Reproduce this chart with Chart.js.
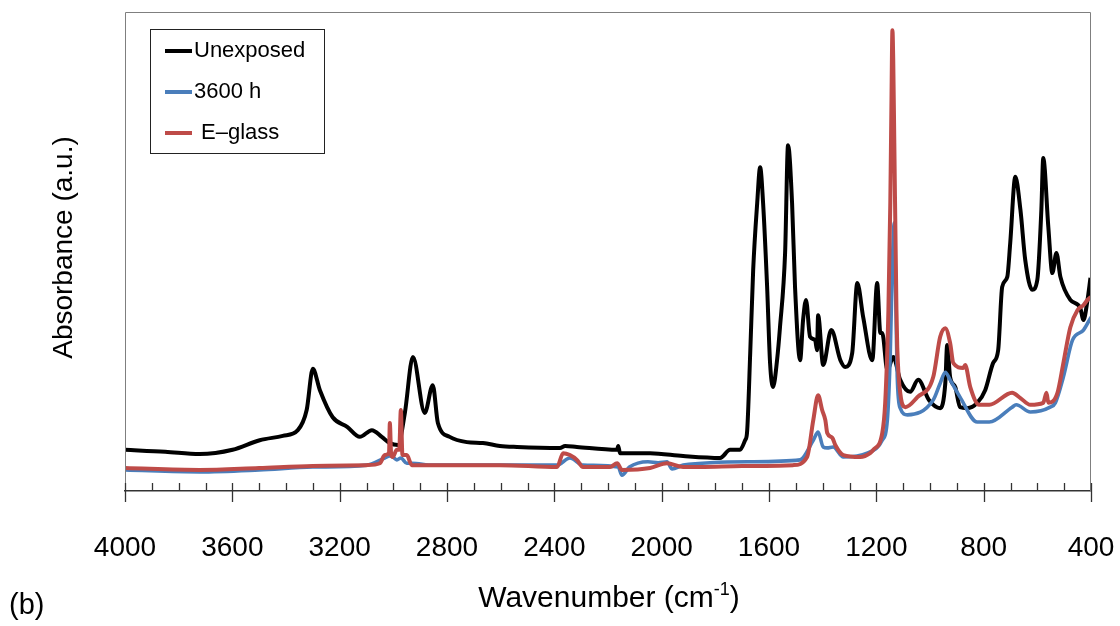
<!DOCTYPE html>
<html>
<head>
<meta charset="utf-8">
<script src="https://cdn.jsdelivr.net/npm/chart.js@4.4.0/dist/chart.umd.min.js"></script>
<style>
html, body { margin: 0; padding: 0; background: #fff; }
</style>
</head>
<body>
<canvas id="g_ftir" width="1120" height="626"></canvas>
<script>
var wn_unexposed = [4000,3850,3722,3599,3498,3412,3356,3323,3300,3274,3226,3172,3125,3080,3043,3013,2983,2957,2927,2883,
    2853,2834,2790,2726,2666,2603,2539,2379,2360,2316,2166,2162,2155,2043,1920,1782,1745,1708,1689,1682,
    1670,1659,1644,1633,1622,1607,1596,1585,1570,1559,1540,1529,1514,1503,1484,1473,1462,1447,1428,1421,
    1417,1398,1368,1334,1316,1290,1271,1249,1215,1197,1185,1178,1159,1137,1111,1074,1044,1004,962,943,
    936,925,906,888,862,824,794,765,746,731,712,701,682,663,645,619,600,585,578,559,
    544,529,514,477,440,428,413,402];
var abs_unexposed = [8.6,8.2,7.7,8.6,10.6,11.5,12.7,16.9,25.5,21.1,15.4,13.4,11.3,12.7,11.3,10.0,9.6,16.3,28.0,16.3,
    22.1,14.2,11.3,10.2,10.0,9.4,9.2,9.0,9.4,9.2,8.6,9.4,7.9,7.9,7.3,6.9,8.6,8.6,10.6,12.1,
    28.8,46.1,60.1,67.6,60.1,42.6,26.7,21.7,27.3,34.2,49.7,72.2,60.1,42.6,27.3,35.7,39.9,32.2,31.5,29.4,
    36.7,26.3,33.6,27.3,25.9,28.8,43.4,36.3,27.3,43.4,33.0,33.0,25.2,28.0,23.2,20.7,23.2,19.0,17.3,22.5,
    30.5,23.8,21.7,17.5,17.3,18.4,21.1,26.7,29.4,42.6,44.7,51.8,65.6,58.7,48.2,42.0,44.1,58.7,69.5,55.1,
    45.5,49.7,44.7,39.9,38.2,35.7,39.9,44.5];

var wn_3600 = [4000,3722,3500,3300,3100,3032,3013,3002,2987,2972,2950,2931,2853,2603,2390,2342,2293,2162,2148,2120,
    2051,2013,1980,1961,1920,1670,1484,1435,1417,1398,1383,1361,1323,1234,1178,1159,1148,1140,1133,1127,
    1122,1111,1084,988,962,943,925,888,824,779,694,679,626,552,533,503,469,428,400];
var abs_3600 = [4.4,4.0,4.4,5.0,5.4,6.9,7.3,7.1,6.5,6.9,5.8,5.8,5.4,5.4,5.4,6.9,5.4,5.0,3.3,5.0,
    6.1,5.9,6.1,4.6,5.4,6.1,6.5,10.6,12.3,9.2,9.0,9.2,7.1,7.9,10.6,14.8,28.8,48,56.0,38,
    23.8,17.3,15.9,19.0,22.5,24.8,23.2,19.6,14.4,14.4,17.5,18.0,16.5,17.5,18.4,23.8,31.5,33.6,36.3];

var wn_glass = [4000,3722,3500,3300,3100,3050,3032,3016,3013,3008,3002,2987,2978,2972,2966,2950,2931,2853,2603,2390,
    2367,2342,2316,2293,2192,2166,2148,2043,1980,1920,1856,1700,1510,1458,1435,1417,1402,1390,1383,1364,
    1353,1323,1260,1223,1211,1178,1167,1155,1148,1144,1140,1137,1133,1125,1122,1111,1092,1047,988,962,
    943,925,913,876,869,850,817,779,694,663,626,578,566,559,525,503,477,450,428,413,400];
var abs_glass = [4.8,4.4,4.8,5.2,5.4,5.8,7.5,8.0,14.2,7.5,7.1,8.6,8.6,16.9,7.5,7.5,5.4,5.4,5.4,5.0,
    7.9,7.5,6.5,5.0,5.0,5.8,4.4,4.8,5.8,5.0,5.0,5.2,5.4,7.1,14.8,20.0,16.9,14.8,12.1,11.1,
    9.6,7.5,7.1,7.9,8.6,12.1,18.4,37.8,60,79.5,96.2,90,72.7,37.8,30,20.5,17.5,19.6,23.8,32.2,
    34.0,30.9,26.7,25.7,26.3,21.7,18.0,18.0,20.5,19.4,18.0,18.4,20.5,18.4,20.5,26.7,34.2,37.8,38.8,39.9,40.5];

var etiquetas = ['Unexposed', '3600 h', 'E\u2013glass'];
var colores = ['#000000', '#4a7ebb', '#be4b48'];

var fuente = '"Liberation Sans", Arial, sans-serif';

function puntos(x, y) {
    var datos = [];
    for (let i = 0; i < x.length; i++) {
        datos.push({x: x[i], y: y[i]});
    }
    return datos;
}

// marco, marcas del eje, leyenda y titulos
var extras = {
    id: 'extras',
    afterDraw: function(chart) {
        var ctx = chart.ctx;
        var a = chart.chartArea;
        var ex = chart.scales.x;
        ctx.save();

        ctx.strokeStyle = '#7f7f7f';
        ctx.lineWidth = 1;
        ctx.beginPath();
        ctx.moveTo(a.left + 0.5, a.bottom);
        ctx.lineTo(a.left + 0.5, a.top + 0.5);
        ctx.lineTo(a.right - 0.5, a.top + 0.5);
        ctx.lineTo(a.right - 0.5, a.bottom);
        ctx.stroke();

        ctx.strokeStyle = '#333';
        ctx.lineWidth = 1.3;
        for (let v = 400; v <= 4000; v += 100) {
            var px = Math.round(ex.getPixelForValue(v)) + 0.5;
            ctx.beginPath();
            ctx.moveTo(px, a.bottom - 8);
            ctx.lineTo(px, v % 400 === 0 ? a.bottom + 11 : a.bottom);
            ctx.stroke();
        }

        // leyenda
        ctx.fillStyle = '#fff';
        ctx.fillRect(150, 29, 174, 124);
        ctx.strokeStyle = '#222';
        ctx.lineWidth = 1;
        ctx.strokeRect(150.5, 29.5, 174, 124);
        var filas = [51, 92, 133];
        ctx.font = '22px ' + fuente;
        ctx.textBaseline = 'middle';
        ctx.textAlign = 'left';
        for (let i = 0; i < etiquetas.length; i++) {
            ctx.strokeStyle = colores[i];
            ctx.lineWidth = 4;
            ctx.beginPath();
            ctx.moveTo(165, filas[i]);
            ctx.lineTo(192, filas[i]);
            ctx.stroke();
            ctx.fillStyle = '#000';
            ctx.fillText(etiquetas[i], i == 2 ? 201 : 194, filas[i]);
        }

        // titulo eje x con superindice
        ctx.fillStyle = '#000';
        ctx.textBaseline = 'alphabetic';
        var t1 = 'Wavenumber (cm', t2 = '-1', t3 = ')';
        ctx.font = '30px ' + fuente;
        var w1 = ctx.measureText(t1).width, w3 = ctx.measureText(t3).width;
        ctx.font = '18px ' + fuente;
        var w2 = ctx.measureText(t2).width;
        var x0 = (a.left + a.right) / 2 + 1 - (w1 + w2 + w3) / 2;
        ctx.font = '30px ' + fuente;
        ctx.fillText(t1, x0, 607);
        ctx.fillText(t3, x0 + w1 + w2, 607);
        ctx.font = '18px ' + fuente;
        ctx.fillText(t2, x0 + w1, 595);

        ctx.font = '29px ' + fuente;
        ctx.fillText('(b)', 9, 614);

        // titulo eje y
        ctx.font = '28px ' + fuente;
        ctx.translate(72, (a.top + a.bottom) / 2 - 4);
        ctx.rotate(-Math.PI / 2);
        ctx.textAlign = 'center';
        ctx.fillText('Absorbance (a.u.)', 0, 0);
        ctx.restore();
    }
};

function grafica_ftir() {
    var series = [
        puntos(wn_unexposed, abs_unexposed),
        puntos(wn_3600, abs_3600),
        puntos(wn_glass, abs_glass)
    ];
    var grosor = [4, 3.6, 4];
    var orden = [2, 1, 0];
    var datasets = [];
    for (let i = 0; i < series.length; i++) {
        datasets.push({
            label: etiquetas[i],
            data: series[i],
            borderColor: colores[i],
            borderWidth: grosor[i],
            pointRadius: 0,
            fill: false,
            cubicInterpolationMode: 'monotone',
            order: orden[i]
        });
    }

    var ctx = document.getElementById('g_ftir').getContext('2d');
    var myChart = new Chart(ctx, {
        type: 'line',
        data: { datasets: datasets },
        options: {
            responsive: false,
            animation: false,
            devicePixelRatio: 1,
            layout: { padding: { left: 125, top: 12, right: 29, bottom: 0 } },
            plugins: {
                legend: { display: false },
                tooltip: { enabled: false }
            },
            scales: {
                x: {
                    type: 'linear',
                    reverse: true,
                    min: 400,
                    max: 4000,
                    ticks: {
                        stepSize: 400,
                        autoSkip: false,
                        maxRotation: 0,
                        padding: 40,
                        color: '#000',
                        font: { size: 28, family: fuente },
                        callback: function(v) { return String(v); }
                    },
                    grid: { display: false, drawTicks: false },
                    border: { display: true, color: '#333', width: 1.5 },
                    afterFit: function(scale) {
                        scale.height = 135;
                        scale.paddingLeft = 0;
                        scale.paddingRight = 0;
                    }
                },
                y: { display: false, min: 0, max: 100 }
            }
        },
        plugins: [extras]
    });
}

grafica_ftir();
</script>
</body>
</html>
